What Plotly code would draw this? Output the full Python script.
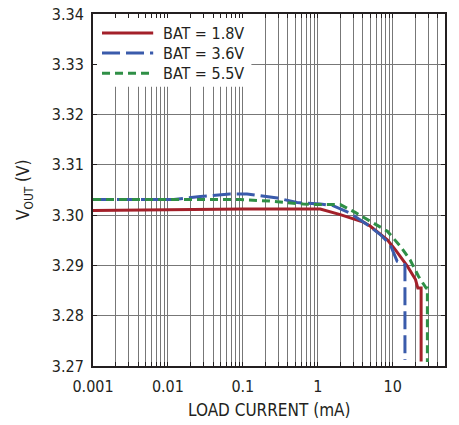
import plotly.graph_objects as go

# ---- data ----
current_18 = [0.001, 0.01, 0.1, 1.08, 2.0, 4.07, 5.05, 8.5, 10.9, 15.8, 20.2, 21.7, 24.0, 24.0]
vout_18 = [3.3009, 3.3011, 3.3012, 3.3012, 3.3001, 3.2986, 3.2978, 3.2951, 3.2931, 3.2898,
           3.2872, 3.2855, 3.2855, 3.2709]

current_36 = [0.001, 0.012, 0.027, 0.067, 0.092, 0.114, 0.29, 0.53, 1.08, 1.6, 2.7, 4.6, 6.9,
              9.3, 11.5, 14.0, 14.6, 14.6]
vout_36 = [3.3031, 3.3031, 3.3037, 3.3042, 3.3042, 3.3042, 3.3034, 3.3025, 3.3022, 3.3019,
           3.3004, 3.2981, 3.2961, 3.2941, 3.2908, 3.2901, 3.2901, 3.2712]

current_55 = [0.001, 0.092, 0.23, 0.43, 0.64, 1.0, 2.0, 3.2, 5.05, 8.5, 12.7, 17.1, 22.2, 28.0, 29.1, 29.1]
vout_55 = [3.3031, 3.3031, 3.3028, 3.3024, 3.3022, 3.3021, 3.3021, 3.3005, 3.2988, 3.2968,
           3.2938, 3.2911, 3.2878, 3.2855, 3.2855, 3.2708]

series_names = ["BAT = 1.8V", "BAT = 3.6V", "BAT = 5.5V"]
x_tick_vals = [0.001, 0.01, 0.1, 1, 10]
x_tick_text = ["0.001", "0.01", "0.1", "1", "10"]
y_tick_vals = [3.27, 3.28, 3.29, 3.30, 3.31, 3.32, 3.33, 3.34]

# ---- styles ----
FONT = "DejaVu Sans Condensed, Liberation Sans Narrow, Arial Narrow, sans-serif"
RED, BLUE, GREEN = "#a3202a", "#3a5bab", "#2f8f46"
GRID = "#777777"
FRAME = "#231f20"
colors = [RED, BLUE, GREEN]
dashes = ["solid", "18px,6px", "8px,5px"]

fig = go.Figure()
for xs, ys, name, c, d in zip([current_18, current_36, current_55],
                              [vout_18, vout_36, vout_55], series_names, colors, dashes):
    fig.add_trace(go.Scatter(x=xs, y=ys, mode="lines", name=name,
                             line=dict(color=c, width=3, dash=d), showlegend=False))

# manual legend (white box hiding the grid, line samples, labels)
shapes = [dict(type="rect", xref="paper", yref="paper", x0=0.0114, x1=0.45, y0=0.793, y1=0.9886,
               fillcolor="white", line=dict(width=0), layer="above")]
legend_y = [0.946, 0.889, 0.832]
annotations = []
for name, c, d, ly in zip(series_names, colors, dashes, legend_y):
    shapes.append(dict(type="line", xref="paper", yref="paper", x0=0.0256, x1=0.171, y0=ly, y1=ly,
                       line=dict(color=c, width=3, dash=d), layer="above"))
    annotations.append(dict(text=name, xref="paper", yref="paper", x=0.192, y=ly,
                            xanchor="left", yanchor="middle", showarrow=False,
                            font=dict(family=FONT, size=16, color="#231f20")))

annotations.append(dict(text="LOAD CURRENT (mA)", xref="paper", yref="paper", x=0.5, y=0,
                        xanchor="center", yanchor="middle", yshift=-44, showarrow=False,
                        font=dict(family=FONT, size=17, color="#231f20")))
annotations.append(dict(text="V<sub>OUT</sub> (V)", xref="paper", yref="paper", x=0, y=0.5,
                        xanchor="center", yanchor="middle", xshift=-69, textangle=-90,
                        showarrow=False, font=dict(family=FONT, size=17, color="#231f20")))

fig.update_layout(
    width=459, height=425,
    margin=dict(l=93, r=14, t=14, b=59),
    paper_bgcolor="white", plot_bgcolor="white",
    font=dict(family=FONT, size=16, color="#231f20"),
    shapes=shapes, annotations=annotations,
)
fig.update_xaxes(
    type="log", range=[-3, 1.69897], automargin=False, ticklabeloverflow="allow",
    tickvals=x_tick_vals, ticktext=x_tick_text,
    showgrid=True, gridcolor=GRID, gridwidth=1,
    ticks="inside", ticklen=4, tickcolor=FRAME, ticklabelstandoff=5,
    showline=True, linecolor=FRAME, linewidth=2, mirror="allticks",
    minor=dict(dtick="D1", showgrid=True, gridcolor=GRID, gridwidth=1,
               ticks="inside", ticklen=4, tickcolor=FRAME),
    zeroline=False,
)
fig.update_yaxes(
    range=[3.27, 3.34], tickvals=y_tick_vals, tickformat=".2f", automargin=False,
    ticklabeloverflow="allow",
    showgrid=True, gridcolor=GRID, gridwidth=1,
    ticks="inside", ticklen=4, tickcolor=FRAME, ticklabelstandoff=4,
    showline=True, linecolor=FRAME, linewidth=2, mirror="allticks",
    zeroline=False,
)

# remove the default page margin so the figure sits at the window's top-left corner
fig.write_html("out.html", config={"displayModeBar": False},
               post_script="document.body.style.margin='0px';")
